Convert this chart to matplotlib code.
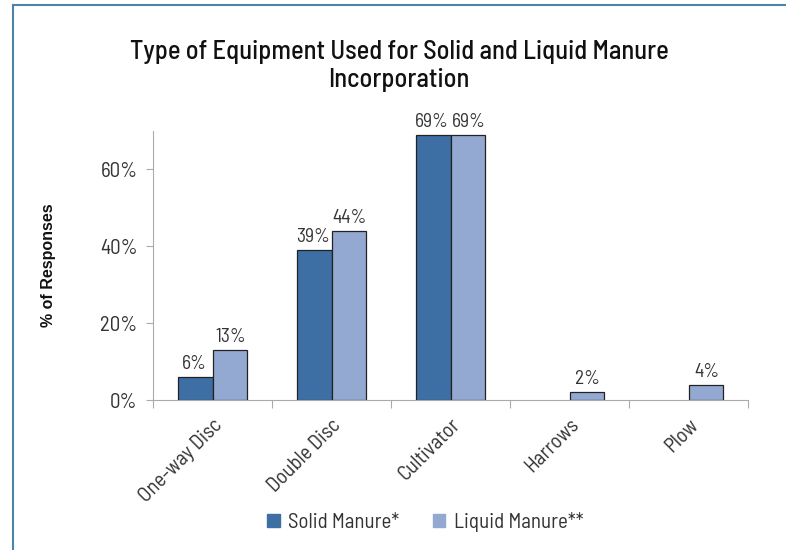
import matplotlib
matplotlib.use("Agg")
import matplotlib.pyplot as plt
import numpy as np
from matplotlib.lines import Line2D
from matplotlib.ticker import FuncFormatter, FixedLocator

categories = ["One-way Disc", "Double Disc", "Cultivator", "Harrows", "Plow"]
solid = [0.06, 0.39, 0.69, None, None]
liquid = [0.13, 0.44, 0.69, 0.02, 0.04]
series_names = ["Solid Manure*", "Liquid Manure**"]
title = "Type of Equipment Used for Solid and Liquid Manure\nIncorporation"
ylabel = "% of Responses"

font = ["Barlow Semi Condensed", "DejaVu Sans"]
c_solid = "#3d6fa5"
c_liquid = "#94a9d1"
txt = "#333333"
fs = 15
fs_val = 14

fig = plt.figure(figsize=(7.86, 5.5), dpi=100)
ax = fig.add_axes([153/786, 1-400/550, (748-153)/786, (400-131)/550])

x = np.arange(len(categories))
w = 0.29
for i in range(len(categories)):
    if solid[i] is not None:
        ax.bar(x[i] - w/2, solid[i], w, color=c_solid, edgecolor="#222222", linewidth=0.9)
        ax.text(x[i] - w/2 - 0.01, solid[i] + 0.01, f"{round(solid[i]*100)}%", ha="center", va="bottom",
                fontsize=fs_val, family=font, color=txt)
    if liquid[i] is not None:
        ax.bar(x[i] + w/2, liquid[i], w, color=c_liquid, edgecolor="#222222", linewidth=0.9)
        ax.text(x[i] + w/2 + 0.01, liquid[i] + 0.01, f"{round(liquid[i]*100)}%", ha="center", va="bottom",
                fontsize=fs_val, family=font, color=txt)

ax.set_xlim(-0.5, len(categories) - 0.5)
ax.set_ylim(0, 0.70)
ax.set_yticks([0, 0.2, 0.4, 0.6])
ax.yaxis.set_major_formatter(FuncFormatter(lambda v, p: f"{round(v*100)}%"))
ax.xaxis.set_major_locator(FixedLocator(np.arange(-0.5, len(categories))))
ax.set_xticklabels([])
ax.set_xticks(x, minor=True)
ax.set_xticklabels(categories, minor=True, rotation=45, ha="right", rotation_mode="anchor",
                   fontsize=fs, family=font, color=txt)
ax.tick_params(axis="x", which="minor", length=0, pad=11)
ax.tick_params(axis="x", which="major", length=6, color="#aaaaaa", direction="out")
ax.tick_params(axis="y", length=5, color="#aaaaaa", labelsize=fs, labelcolor=txt, pad=6)
for lab in ax.get_yticklabels():
    lab.set_family(font)

for s in ["top", "right"]:
    ax.spines[s].set_visible(False)
ax.spines["left"].set_color("#aaaaaa")
ax.spines["bottom"].set_color("#aaaaaa")

ax.set_ylabel(ylabel, fontsize=11.5, fontweight="bold", color="#111111", family="Liberation Sans")
ax.yaxis.set_label_coords(-0.163, 0.5)

fig.text(0.508, 1-66/550, title, ha="center", va="center", fontsize=19, family=font,
         fontweight="medium", color="#111111", linespacing=1.22)

handles = [plt.Rectangle((0, 0), 1, 1, color=c_solid), plt.Rectangle((0, 0), 1, 1, color=c_liquid)]
leg = fig.legend(handles, series_names, loc="center", bbox_to_anchor=(0.541, 1-522/550), ncol=2,
                 frameon=False, prop={"family": font, "size": fs}, handlelength=0.6, handleheight=0.6,
                 handletextpad=0.4, columnspacing=1.6)
for t in leg.get_texts():
    t.set_color(txt)

fc = "#4a85a8"
fig.add_artist(Line2D([13/786, 13/786], [0, 1-5/550], color=fc, linewidth=1.5, transform=fig.transFigure))
fig.add_artist(Line2D([13/786, 1], [1-5/550, 1-5/550], color=fc, linewidth=1.5, transform=fig.transFigure))

fig.savefig("out.png", dpi=100)
